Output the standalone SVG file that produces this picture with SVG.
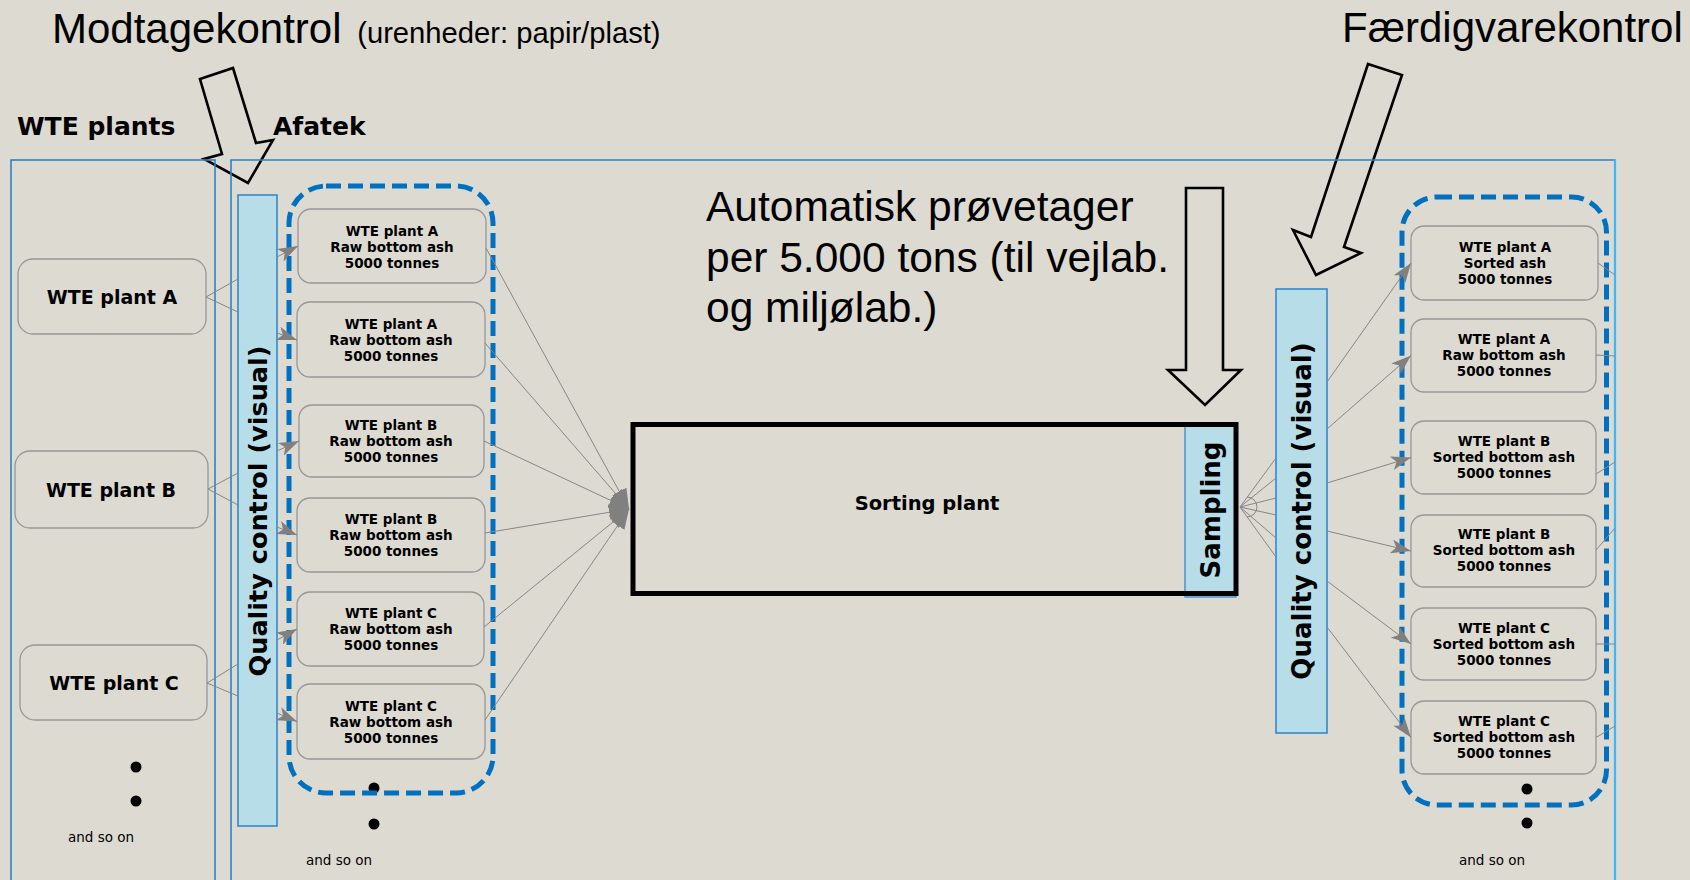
<svg xmlns="http://www.w3.org/2000/svg" width="1690" height="880" viewBox="0 0 1690 880">
  <style>
    .title { font-family: "Liberation Sans", Arial, sans-serif; fill: #000; }
    .lbl { font-family: "DejaVu Sans", Verdana, sans-serif; font-weight: bold; fill: #000; }
    .small { font-family: "DejaVu Sans", Verdana, sans-serif; font-size: 13.5px; fill: #000; }
    .plant { fill: none; stroke: #979797; stroke-width: 1.3; }
    .lot { fill: none; stroke: #979797; stroke-width: 1.3; }
    .lot-text { font-family: "DejaVu Sans", Verdana, sans-serif; font-weight: bold; font-size: 13.5px; fill: #000; text-anchor: middle; }
    .qc { fill: #b7dde8; stroke: #2b82c9; stroke-width: 1.5; }
    .area { fill: none; stroke: #2b82c9; stroke-width: 1.6; }
    .group { fill: none; stroke: #0070c0; stroke-width: 5; stroke-dasharray: 15 7; }
    .link { fill: none; stroke: #868686; stroke-width: 1; }
    .big-arrow { fill: none; stroke: #000; stroke-width: 2.6; stroke-linejoin: miter; }
    .dot { fill: #000; }
  </style>
  <defs>
    <marker id="arrow" markerUnits="userSpaceOnUse" viewBox="0 0 20 14" refX="20" refY="7" markerWidth="20" markerHeight="14" orient="auto">
      <path d="M0,0 L20,7 L0,14 L5,7 Z" fill="#808080"/>
    </marker>
    <marker id="block" markerUnits="userSpaceOnUse" viewBox="0 0 20 16" refX="20" refY="8" markerWidth="20" markerHeight="16" orient="auto">
      <path d="M0,0 L20,8 L0,16 Z" fill="#808080"/>
    </marker>
  </defs>

  <!-- canvas -->
  <rect x="0" y="0" width="1690" height="880" fill="#dddad2"/>

  <!-- headings -->
  <text class="title" x="52" y="43" font-size="42">Modtagekontrol <tspan dx="4" font-size="29.2">(urenheder: papir/plast)</tspan></text>
  <text class="title" x="1342" y="42" font-size="42">Færdigvarekontrol</text>
  <text class="title" font-size="42.5">
    <tspan x="706" y="221">Automatisk prøvetager</tspan>
    <tspan x="706" y="271.5">per 5.000 tons (til vejlab.</tspan>
    <tspan x="706" y="322">og miljølab.)</tspan>
  </text>

  <!-- block arrows -->
  <polygon class="big-arrow" points="200,79 233,68 256,143 273,140 248,183 204,159 222,154"/>
  <polygon class="big-arrow" points="1368,64 1402,75 1344,247 1361,253 1316,275 1293,230 1311,237"/>
  <polygon class="big-arrow" points="1186,188 1223,188 1223,370 1241,370 1205,405 1168,370 1186,370"/>

  <!-- site areas -->
  <g id="area-wte">
    <rect class="area" x="11" y="160" width="204" height="740"/>
    <text class="lbl" x="17" y="135" font-size="25">WTE plants</text>
  </g>
  <g id="area-afatek">
    <path class="area" d="M231,900 V160 H1615"/>
    <line x1="1615" y1="159" x2="1615" y2="900" stroke="#3db6fa" stroke-width="2.2"/>
    <text class="lbl" x="273" y="135" font-size="25">Afatek</text>
  </g>

  <!-- incoming plants -->
  <g id="wte-a">
    <rect class="plant" x="18" y="259" width="188" height="75" rx="15"/>
    <text class="lbl" x="112" y="304" font-size="19" text-anchor="middle">WTE plant A</text>
  </g>
  <g id="wte-b">
    <rect class="plant" x="15" y="451" width="193" height="77" rx="15"/>
    <text class="lbl" x="111" y="497" font-size="19" text-anchor="middle">WTE plant B</text>
  </g>
  <g id="wte-c">
    <rect class="plant" x="20" y="645" width="187" height="75" rx="15"/>
    <text class="lbl" x="114" y="690" font-size="19" text-anchor="middle">WTE plant C</text>
  </g>
  <g id="wte-more">
    <circle class="dot" cx="136" cy="767" r="5.5"/>
    <circle class="dot" cx="136" cy="801" r="5.5"/>
    <text class="small" x="68" y="842">and so on</text>
  </g>

  <!-- reception quality control -->
  <g id="qc-in">
    <rect class="qc" x="238" y="195" width="39" height="631"/>
    <text class="lbl" font-size="25.5" text-anchor="middle" transform="rotate(-90 257.5 511)" x="257.5" y="520.3">Quality control (visual)</text>
  </g>

  <!-- raw ash lots -->
  <g id="raw-more">
    <circle class="dot" cx="374" cy="788" r="5.5"/>
    <circle class="dot" cx="374" cy="824" r="5.5"/>
    <text class="small" x="306" y="865">and so on</text>
  </g>
  <g id="raw-group">
    <rect class="group" x="289" y="186" width="204" height="607" rx="37"/>
  </g>
  <g id="raw-a1">
    <rect class="lot" x="298" y="209" width="188" height="74" rx="13"/>
    <text class="lot-text"><tspan x="392" y="236">WTE plant A</tspan><tspan x="392" y="252">Raw bottom ash</tspan><tspan x="392" y="268">5000 tonnes</tspan></text>
  </g>
  <g id="raw-a2">
    <rect class="lot" x="297" y="302" width="188" height="75" rx="13"/>
    <text class="lot-text"><tspan x="391" y="329">WTE plant A</tspan><tspan x="391" y="345">Raw bottom ash</tspan><tspan x="391" y="361">5000 tonnes</tspan></text>
  </g>
  <g id="raw-b1">
    <rect class="lot" x="299" y="405" width="185" height="72" rx="13"/>
    <text class="lot-text"><tspan x="391" y="430">WTE plant B</tspan><tspan x="391" y="446">Raw bottom ash</tspan><tspan x="391" y="462">5000 tonnes</tspan></text>
  </g>
  <g id="raw-b2">
    <rect class="lot" x="297" y="498" width="188" height="74" rx="13"/>
    <text class="lot-text"><tspan x="391" y="524">WTE plant B</tspan><tspan x="391" y="540">Raw bottom ash</tspan><tspan x="391" y="556">5000 tonnes</tspan></text>
  </g>
  <g id="raw-c1">
    <rect class="lot" x="297" y="592" width="187" height="74" rx="13"/>
    <text class="lot-text"><tspan x="391" y="618">WTE plant C</tspan><tspan x="391" y="634">Raw bottom ash</tspan><tspan x="391" y="650">5000 tonnes</tspan></text>
  </g>
  <g id="raw-c2">
    <rect class="lot" x="297" y="684" width="188" height="75" rx="13"/>
    <text class="lot-text"><tspan x="391" y="711">WTE plant C</tspan><tspan x="391" y="727">Raw bottom ash</tspan><tspan x="391" y="743">5000 tonnes</tspan></text>
  </g>

  <!-- sorting plant with sampler -->
  <g id="sorting-plant">
    <rect x="1185" y="426" width="51" height="171" fill="#b7dde8" stroke="#2b82c9" stroke-width="1.2"/>
    <rect x="633" y="424.5" width="603" height="169" fill="none" stroke="#000" stroke-width="5"/>
    <text class="lbl" x="927" y="510" font-size="19.5" text-anchor="middle">Sorting plant</text>
    <text class="lbl" font-size="26" text-anchor="middle" transform="rotate(-90 1210 510)" x="1210" y="519.5">Sampling</text>
  </g>

  <!-- finished goods quality control -->
  <g id="qc-out">
    <rect class="qc" x="1276" y="289" width="51" height="444"/>
    <text class="lbl" font-size="26" text-anchor="middle" transform="rotate(-90 1301.5 511)" x="1301.5" y="520.5">Quality control (visual)</text>
  </g>

  <!-- sorted ash lots -->
  <g id="sorted-group">
    <rect class="group" x="1402" y="197" width="204.5" height="608" rx="35"/>
  </g>
  <g id="sorted-a1">
    <rect class="lot" x="1411" y="226" width="187" height="74" rx="13"/>
    <text class="lot-text"><tspan x="1505" y="252">WTE plant A</tspan><tspan x="1505" y="268">Sorted ash</tspan><tspan x="1505" y="284">5000 tonnes</tspan></text>
  </g>
  <g id="sorted-a2">
    <rect class="lot" x="1411" y="319" width="185" height="73" rx="13"/>
    <text class="lot-text"><tspan x="1504" y="344">WTE plant A</tspan><tspan x="1504" y="360">Raw bottom ash</tspan><tspan x="1504" y="376">5000 tonnes</tspan></text>
  </g>
  <g id="sorted-b1">
    <rect class="lot" x="1411" y="421" width="185" height="73" rx="13"/>
    <text class="lot-text"><tspan x="1504" y="446">WTE plant B</tspan><tspan x="1504" y="462">Sorted bottom ash</tspan><tspan x="1504" y="478">5000 tonnes</tspan></text>
  </g>
  <g id="sorted-b2">
    <rect class="lot" x="1411" y="515" width="185" height="72" rx="13"/>
    <text class="lot-text"><tspan x="1504" y="539">WTE plant B</tspan><tspan x="1504" y="555">Sorted bottom ash</tspan><tspan x="1504" y="571">5000 tonnes</tspan></text>
  </g>
  <g id="sorted-c1">
    <rect class="lot" x="1411" y="608" width="185" height="72" rx="13"/>
    <text class="lot-text"><tspan x="1504" y="633">WTE plant C</tspan><tspan x="1504" y="649">Sorted bottom ash</tspan><tspan x="1504" y="665">5000 tonnes</tspan></text>
  </g>
  <g id="sorted-c2">
    <rect class="lot" x="1411" y="701" width="185" height="73" rx="13"/>
    <text class="lot-text"><tspan x="1504" y="726">WTE plant C</tspan><tspan x="1504" y="742">Sorted bottom ash</tspan><tspan x="1504" y="758">5000 tonnes</tspan></text>
  </g>
  <g id="sorted-more">
    <circle class="dot" cx="1527" cy="789" r="5.5"/>
    <circle class="dot" cx="1527" cy="823" r="5.5"/>
    <text class="small" x="1459" y="865">and so on</text>
  </g>

  <!-- connectors -->
  <g id="connectors">
    <!-- plants into reception control -->
    <path class="link" d="M206,297 L238,279 M206,297 L238,312"/>
    <path class="link" d="M208,489 L238,473 M208,489 L238,505"/>
    <path class="link" d="M207,683 L238,664 M207,683 L238,696"/>
    <!-- reception control into raw lots -->
    <path class="link" marker-end="url(#arrow)" d="M277,257 L298,246"/>
    <path class="link" marker-end="url(#arrow)" d="M277,333 L297,340"/>
    <path class="link" marker-end="url(#arrow)" d="M277,451 L299,441"/>
    <path class="link" marker-end="url(#arrow)" d="M277,527 L297,535"/>
    <path class="link" marker-end="url(#arrow)" d="M277,640 L297,629"/>
    <path class="link" marker-end="url(#arrow)" d="M277,713 L297,721.5"/>
    <!-- raw lots into sorting plant -->
    <path class="link" marker-end="url(#block)" d="M486,248 L629,509"/>
    <path class="link" marker-end="url(#block)" d="M485,343 L629,509"/>
    <path class="link" marker-end="url(#block)" d="M484,441 L629,509"/>
    <path class="link" marker-end="url(#block)" d="M485,533 L629,509"/>
    <path class="link" marker-end="url(#block)" d="M484,627 L629,509"/>
    <path class="link" marker-end="url(#block)" d="M485,720 L629,509"/>
    <!-- sampler into finished goods control -->
    <path class="link" d="M1240,507 L1276,458 M1240,507 L1276,478 M1240,507 L1276,498 M1240,507 L1276,515 M1240,507 L1276,538 M1240,507 L1276,557"/>
    <path class="link" d="M1247,497 A10,10 0 0 1 1247,517"/>
    <!-- finished goods control into sorted lots -->
    <path class="link" marker-end="url(#arrow)" d="M1327,382 L1411,263"/>
    <path class="link" marker-end="url(#arrow)" d="M1327,429 L1411,355.5"/>
    <path class="link" marker-end="url(#arrow)" d="M1327,483 L1411,457.5"/>
    <path class="link" marker-end="url(#arrow)" d="M1327,531 L1411,551"/>
    <path class="link" marker-end="url(#arrow)" d="M1327,581 L1411,644"/>
    <path class="link" marker-end="url(#arrow)" d="M1327,627 L1411,737.5"/>
    <!-- sorted lots leaving the site -->
    <path class="link" d="M1598,263 L1615,275"/>
    <path class="link" d="M1596,355 L1615,356"/>
    <path class="link" d="M1596,474 L1615,462"/>
    <path class="link" d="M1596,550 L1615,528"/>
    <path class="link" d="M1596,644 L1615,644"/>
    <path class="link" d="M1596,737.5 L1615,726"/>
  </g>
</svg>
